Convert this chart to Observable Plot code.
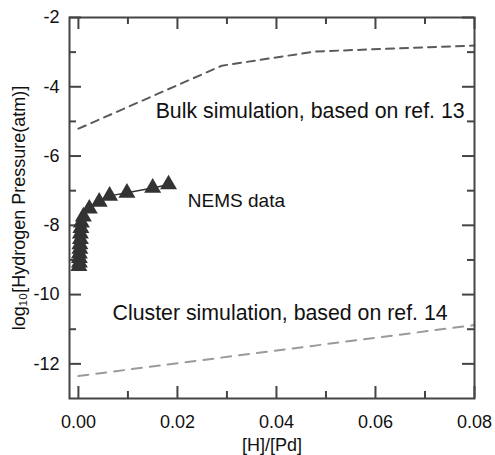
<!DOCTYPE html>
<html>
<head>
<meta charset="utf-8">
<script src="https://cdn.jsdelivr.net/npm/d3@7"></script>
<script src="https://cdn.jsdelivr.net/npm/@observablehq/plot@0.6"></script>
<style>
  html, body { margin: 0; padding: 0; background: #fff; }
  #chart svg { display: block; }
</style>
</head>
<body>
<div id="chart"></div>
<script>
// --- data ---
const bulkX = [0.000, 0.029, 0.048, 0.080];
const bulkY = [-5.21, -3.39, -2.98, -2.81];

const clusterX = [0.000, 0.080];
const clusterY = [-12.35, -10.88];

const nemsX = [0.0182, 0.0150, 0.0098, 0.0063, 0.0042, 0.0022, 0.0010, 0.0006, 0.0005, 0.0004, 0.0004, 0.0003, 0.0003, 0.0002, 0.0002, 0.0002, 0.0001];
const nemsY = [-6.82, -6.92, -7.06, -7.15, -7.32, -7.52, -7.75, -7.92, -8.08, -8.24, -8.40, -8.55, -8.68, -8.82, -8.95, -9.08, -9.18];

const xMajorTicks = [0, 0.02, 0.04, 0.06, 0.08];
const xMinorTicks = [0.01, 0.03, 0.05, 0.07];
const yMajorTicks = [-2, -4, -6, -8, -10, -12];
const yMinorTicks = [-3, -5, -7, -9, -11];

const simText = ["Bulk simulation, based on ref. 13", "Cluster simulation, based on ref. 14"];
const simX = [0.0156, 0.0069];
const simY = [-4.70, -10.55];
const nemsText = ["NEMS data"];
const nemsLabelX = [0.0221];
const nemsLabelY = [-7.30];

const xLabel = "[H]/[Pd]";
const yLabel = "log₁₀[Hydrogen Pressure(atm)]";

// --- tables ---
const bulk = bulkX.map((x, i) => ({x, y: bulkY[i]}));
const cluster = clusterX.map((x, i) => ({x, y: clusterY[i]}));
const nems = nemsX.map((x, i) => ({x, y: nemsY[i]}));
const simNotes = simText.map((t, i) => ({t, x: simX[i], y: simY[i]}));
const nemsNotes = nemsText.map((t, i) => ({t, x: nemsLabelX[i], y: nemsLabelY[i]}));

const W = 495, H = 455, ML = 69, MR = 21, MT = 17, MB = 57;
const FW = W - ML - MR, FH = H - MT - MB;
const MAJ = 12, MIN = 7;
const ink = "#444";
const font = "'Liberation Sans', Arial, Helvetica, sans-serif";

const tickStyle = {stroke: ink, strokeWidth: 2};

const chart = Plot.plot({
  width: W,
  height: H,
  marginLeft: ML,
  marginRight: MR,
  marginTop: MT,
  marginBottom: MB,
  style: {fontFamily: font, background: "#fff", color: "#111"},
  x: {domain: [-0.0018, 0.08]},
  y: {domain: [-13, -2]},
  marks: [
    // tick labels and titles
    Plot.axisX(xMajorTicks, {anchor: "bottom", tickSize: 0, tickPadding: 17, tickFormat: d3.format(".2f"), fontSize: 18, label: xLabel, labelAnchor: "center", labelArrow: "none", labelOffset: 52}),
    Plot.axisY(yMajorTicks, {anchor: "left", tickSize: 0, tickPadding: 10, tickFormat: d => String(d), fontSize: 18, label: yLabel, labelAnchor: "center", labelArrow: "none", labelOffset: 57}),
    // inward ticks on all four sides
    Plot.tickX(xMajorTicks, {x: d => d, insetTop: FH - MAJ, ...tickStyle}),
    Plot.tickX(xMinorTicks, {x: d => d, insetTop: FH - MIN, ...tickStyle}),
    Plot.tickX(xMajorTicks, {x: d => d, insetBottom: FH - MAJ, ...tickStyle}),
    Plot.tickX(xMinorTicks, {x: d => d, insetBottom: FH - MIN, ...tickStyle}),
    Plot.tickY(yMajorTicks, {y: d => d, insetRight: FW - MAJ, ...tickStyle}),
    Plot.tickY(yMinorTicks, {y: d => d, insetRight: FW - MIN, ...tickStyle}),
    Plot.tickY(yMajorTicks, {y: d => d, insetLeft: FW - MAJ, ...tickStyle}),
    Plot.tickY(yMinorTicks, {y: d => d, insetLeft: FW - MIN, ...tickStyle}),
    // data
    Plot.line(bulk, {x: "x", y: "y", stroke: "#5a5a5a", strokeWidth: 2, strokeDasharray: "8,6"}),
    Plot.line(cluster, {x: "x", y: "y", stroke: "#9a9a9a", strokeWidth: 2, strokeDasharray: "10,8"}),
    Plot.line(nems, {x: "x", y: "y", stroke: "#333", strokeWidth: 1.5}),
    Plot.dot(nems, {x: "x", y: "y", symbol: "triangle", fill: "#333", stroke: "none", r: 6.3}),
    Plot.text(simNotes, {x: "x", y: "y", text: "t", textAnchor: "start", fontSize: 21.3, fill: "#111"}),
    Plot.text(nemsNotes, {x: "x", y: "y", text: "t", textAnchor: "start", fontSize: 19, fill: "#111"}),
    Plot.frame({stroke: ink, strokeWidth: 2})
  ]
});
document.getElementById("chart").appendChild(chart);
</script>
</body>
</html>
